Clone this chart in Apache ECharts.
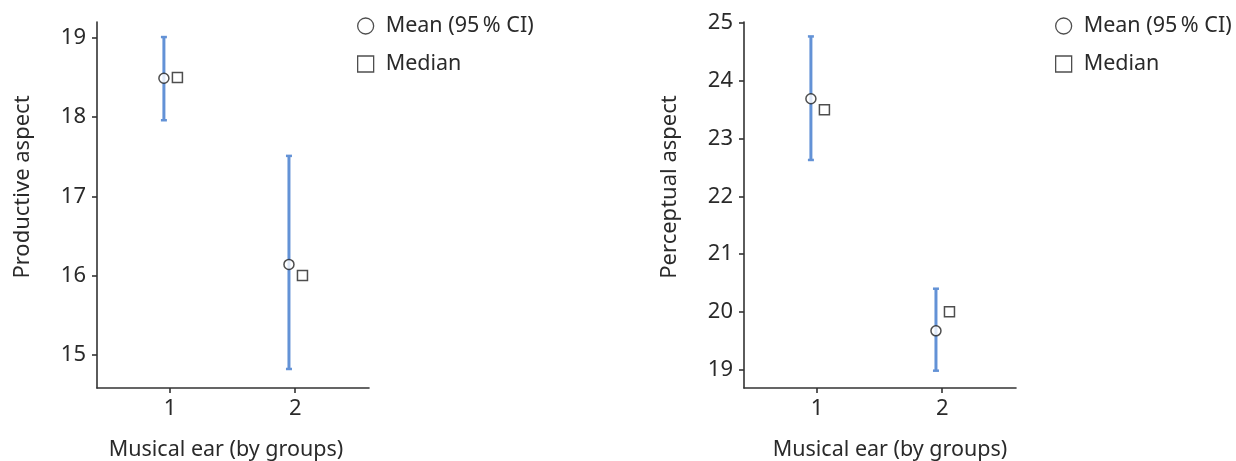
<!DOCTYPE html>
<html>
<head>
<meta charset="utf-8">
<script src="https://cdn.jsdelivr.net/npm/echarts@6/dist/echarts.min.js"></script>
<style>
html,body{margin:0;padding:0;background:#fff;}
#c{width:1236px;height:461px;}
</style>
</head>
<body>
<div id="c"></div>
<script>
const groups = [1, 2];
const productiveMean = [18.49, 16.14];
const productiveMedian = [18.5, 16.0];
const productiveLow = [17.96, 14.82];
const productiveHigh = [19.01, 17.51];
const perceptualMean = [23.69, 19.67];
const perceptualMedian = [23.5, 20.0];
const perceptualLow = [22.63, 18.98];
const perceptualHigh = [24.77, 20.40];
const productiveTicks = [15, 16, 17, 18, 19];
const perceptualTicks = [19, 20, 21, 22, 23, 24, 25];
const groupTicks = [1, 2];
const meanName = 'Mean (95\u202F% CI)';
const medianName = 'Median';
const xName = 'Musical ear (by groups)';

const MEAN_OFF = -0.05, MED_OFF = 0.058;
const FONT = 'Noto Sans';
const TXT = '#2a2a2a';
const AX = '#333';
const BLUE = '#6392d6';

function errData(low, high) {
  return groups.map((g, i) => [g + MEAN_OFF, low[i], high[i]]);
}
function pts(vals, off) {
  return groups.map((g, i) => [g + off, vals[i]]);
}
function renderErr(params, api) {
  const x = api.value(0);
  const lo = api.coord([x, api.value(1)]);
  const hi = api.coord([x, api.value(2)]);
  const cw = 3;
  const st = {stroke: BLUE, lineWidth: 3};
  return {
    type: 'group',
    children: [
      {type: 'line', shape: {x1: lo[0], y1: lo[1], x2: hi[0], y2: hi[1]}, style: st},
      {type: 'line', shape: {x1: lo[0]-cw, y1: lo[1], x2: lo[0]+cw, y2: lo[1]}, style: {stroke: BLUE, lineWidth: 2.5}},
      {type: 'line', shape: {x1: hi[0]-cw, y1: hi[1], x2: hi[0]+cw, y2: hi[1]}, style: {stroke: BLUE, lineWidth: 2.5}}
    ]
  };
}
function xAxisCfg(idx, pad) {
  return {
    type: 'value', gridIndex: idx, min: 0.415, max: 2.59,
    name: xName, nameLocation: 'middle', nameGap: 51,
    nameTextStyle: {fontFamily: FONT, fontSize: 21.5, color: TXT, padding: pad},
    axisLine: {show: true, lineStyle: {color: AX, width: 1.6}},
    axisTick: {show: true, length: 5, customValues: groupTicks, lineStyle: {color: AX, width: 1.6}},
    axisLabel: {customValues: groupTicks, margin: 10, fontFamily: FONT, fontSize: 22, color: TXT},
    splitLine: {show: false}
  };
}
function yAxisCfg(idx, name, min, max, ticks) {
  return {
    type: 'value', gridIndex: idx, min: min, max: max,
    name: name, nameLocation: 'middle', nameGap: 63, nameRotate: 90,
    nameTextStyle: {fontFamily: FONT, fontSize: 22, color: TXT, padding: [0, 0, 0, 36]},
    axisLine: {show: true, lineStyle: {color: AX, width: 1.6}},
    axisTick: {show: true, length: 5, customValues: ticks, lineStyle: {color: AX, width: 1.6}},
    axisLabel: {customValues: ticks, margin: 11, fontFamily: FONT, fontSize: 22, color: TXT},
    splitLine: {show: false}
  };
}
const markerStyle = {color: '#fff', borderColor: '#222', borderWidth: 1.5};
function legendCfg(left) {
  return {
    left: left, top: 15, orient: 'vertical', itemGap: 16, padding: 0,
    itemWidth: 16, itemHeight: 16,
    textStyle: {fontFamily: FONT, fontSize: 21.5, color: TXT, padding: [0, 0, 0, 7]},
    data: [
      {name: meanName, icon: 'circle', itemStyle: {color: '#fff', borderColor: '#222', borderWidth: 1.3}},
      {name: medianName, icon: 'rect', itemStyle: {color: '#fff', borderColor: '#222', borderWidth: 1.3}}
    ],
    selectedMode: false
  };
}

const chart = echarts.init(document.getElementById('c'), null, {renderer: 'canvas'});
chart.setOption({
  animation: false,
  backgroundColor: '#fff',
  grid: [
    {left: 97, top: 22, width: 272, height: 366, outerBoundsMode: 'none', containLabel: false},
    {left: 744, top: 22, width: 272, height: 366, outerBoundsMode: 'none', containLabel: false}
  ],
  legend: [legendCfg(357), legendCfg(1055)],
  xAxis: [xAxisCfg(0, [0, 14, 0, 0]), xAxisCfg(1, [0, 0, 0, 20])],
  yAxis: [
    yAxisCfg(0, 'Productive aspect', 14.58, 19.2, productiveTicks),
    yAxisCfg(1, 'Perceptual aspect', 18.68, 25.02, perceptualTicks)
  ],
  series: [
    {type: 'custom', xAxisIndex: 0, yAxisIndex: 0, renderItem: renderErr, data: errData(productiveLow, productiveHigh), z: 1},
    {type: 'custom', xAxisIndex: 1, yAxisIndex: 1, renderItem: renderErr, data: errData(perceptualLow, perceptualHigh), z: 1},
    {name: meanName, type: 'scatter', xAxisIndex: 0, yAxisIndex: 0, symbol: 'circle', symbolSize: 10, itemStyle: markerStyle, data: pts(productiveMean, MEAN_OFF), z: 3},
    {name: medianName, type: 'scatter', xAxisIndex: 0, yAxisIndex: 0, symbol: 'rect', symbolSize: 10, itemStyle: markerStyle, data: pts(productiveMedian, MED_OFF), z: 3},
    {name: meanName, type: 'scatter', xAxisIndex: 1, yAxisIndex: 1, symbol: 'circle', symbolSize: 10, itemStyle: markerStyle, data: pts(perceptualMean, MEAN_OFF), z: 3},
    {name: medianName, type: 'scatter', xAxisIndex: 1, yAxisIndex: 1, symbol: 'rect', symbolSize: 10, itemStyle: markerStyle, data: pts(perceptualMedian, MED_OFF), z: 3}
  ]
});
</script>
</body>
</html>
